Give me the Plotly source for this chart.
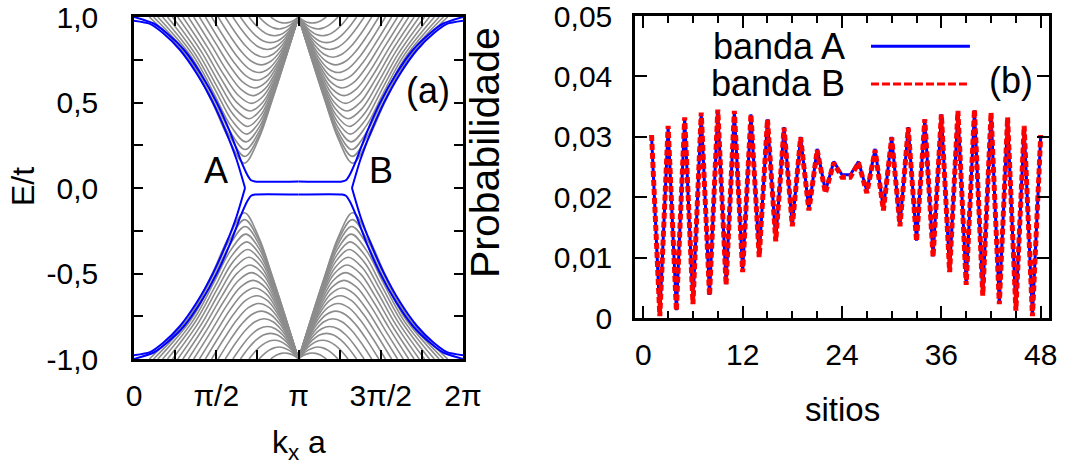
import plotly.graph_objects as go

# ---------------- panel (a): band structure, kx a in units of pi ----------------
# Upper-left quadrant (0 <= kx a <= pi, E > 0); the other quadrants follow from
# the symmetry of the spectrum about kx a = pi and E = 0.
edge_outer_k = [0.0, 0.097, 0.178, 0.28, 0.381, 0.482, 0.563, 0.624, 0.675]
edge_outer_E = [0.978, 0.96, 0.905, 0.807, 0.67, 0.495, 0.32, 0.165, 0.0]

edge_inner_k = [0.0, 0.12, 0.2, 0.305, 0.405, 0.506, 0.587, 0.648, 0.69, 0.712, 0.735, 1.0]
edge_inner_E = [1.0, 0.962, 0.905, 0.807, 0.67, 0.495, 0.32, 0.165, 0.075, 0.045, 0.038, 0.038]

# gray bulk sub-bands: each runs from the top of the frame down to its minimum
# and back up to E/t = 1 at kx a = pi
bulk_k = [
    [0.093, 0.334, 0.468, 0.576, 0.671, 0.758, 0.841, 0.921, 1.0],
    [0.119, 0.341, 0.472, 0.579, 0.673, 0.760, 0.842, 0.922, 1.0],
    [0.145, 0.350, 0.478, 0.583, 0.676, 0.762, 0.843, 0.922, 1.0],
    [0.174, 0.362, 0.486, 0.589, 0.680, 0.765, 0.845, 0.923, 1.0],
    [0.204, 0.376, 0.496, 0.596, 0.685, 0.768, 0.848, 0.924, 1.0],
    [0.234, 0.392, 0.507, 0.604, 0.691, 0.773, 0.850, 0.926, 1.0],
    [0.266, 0.410, 0.519, 0.613, 0.698, 0.777, 0.853, 0.927, 1.0],
    [0.297, 0.429, 0.533, 0.623, 0.705, 0.783, 0.857, 0.929, 1.0],
    [0.330, 0.450, 0.548, 0.635, 0.714, 0.789, 0.861, 0.931, 1.0],
    [0.363, 0.473, 0.565, 0.647, 0.723, 0.796, 0.865, 0.933, 1.0],
    [0.398, 0.498, 0.584, 0.662, 0.734, 0.803, 0.870, 0.935, 1.0],
    [0.434, 0.524, 0.604, 0.677, 0.746, 0.812, 0.876, 0.938, 1.0],
    [0.472, 0.553, 0.627, 0.695, 0.759, 0.822, 0.882, 0.941, 1.0],
    [0.512, 0.585, 0.652, 0.714, 0.774, 0.832, 0.889, 0.945, 1.0],
    [0.555, 0.619, 0.679, 0.736, 0.791, 0.845, 0.897, 0.949, 1.0],
    [0.601, 0.657, 0.710, 0.761, 0.811, 0.859, 0.906, 0.953, 1.0],
    [0.647, 0.695, 0.741, 0.786, 0.830, 0.873, 0.916, 0.958, 1.0],
    [0.699, 0.739, 0.778, 0.816, 0.854, 0.891, 0.927, 0.964, 1.0],
    [0.760, 0.792, 0.822, 0.852, 0.882, 0.912, 0.941, 0.971, 1.0],
    [0.831, 0.853, 0.874, 0.895, 0.916, 0.937, 0.958, 0.979, 1.0],
]
bulk_E = [
    [1.0, 0.756, 0.516, 0.287, 0.145, 0.287, 0.516, 0.756, 1.0],
    [1.0, 0.760, 0.525, 0.308, 0.185, 0.308, 0.525, 0.760, 1.0],
    [1.0, 0.765, 0.537, 0.332, 0.225, 0.332, 0.537, 0.765, 1.0],
    [1.0, 0.771, 0.552, 0.362, 0.270, 0.362, 0.552, 0.771, 1.0],
    [1.0, 0.778, 0.570, 0.394, 0.315, 0.394, 0.570, 0.778, 1.0],
    [1.0, 0.787, 0.589, 0.429, 0.360, 0.429, 0.589, 0.787, 1.0],
    [1.0, 0.796, 0.611, 0.465, 0.405, 0.465, 0.611, 0.796, 1.0],
    [1.0, 0.807, 0.634, 0.502, 0.450, 0.502, 0.634, 0.807, 1.0],
    [1.0, 0.818, 0.659, 0.541, 0.495, 0.541, 0.659, 0.818, 1.0],
    [1.0, 0.831, 0.685, 0.580, 0.540, 0.580, 0.685, 0.831, 1.0],
    [1.0, 0.844, 0.712, 0.619, 0.585, 0.619, 0.712, 0.844, 1.0],
    [1.0, 0.858, 0.740, 0.659, 0.630, 0.659, 0.740, 0.858, 1.0],
    [1.0, 0.873, 0.769, 0.700, 0.675, 0.700, 0.769, 0.873, 1.0],
    [1.0, 0.888, 0.799, 0.741, 0.720, 0.741, 0.799, 0.888, 1.0],
    [1.0, 0.905, 0.830, 0.782, 0.765, 0.782, 0.830, 0.905, 1.0],
    [1.0, 0.922, 0.861, 0.823, 0.810, 0.823, 0.861, 0.922, 1.0],
    [1.0, 0.937, 0.890, 0.860, 0.850, 0.860, 0.890, 0.937, 1.0],
    [1.0, 0.953, 0.919, 0.897, 0.890, 0.897, 0.919, 0.953, 1.0],
    [1.0, 0.970, 0.948, 0.935, 0.930, 0.935, 0.948, 0.970, 1.0],
    [1.0, 0.985, 0.974, 0.967, 0.965, 0.967, 0.974, 0.985, 1.0],
]

k_ticks = [0, 0.25, 0.5, 0.75, 1.0, 1.25, 1.5, 1.75, 2.0]
k_ticktext = ["0", "", "π/2", "", "π", "", "3π/2", "", "2π"]
E_ticks = [-1.0, -0.75, -0.5, -0.25, 0.0, 0.25, 0.5, 0.75, 1.0]
E_ticktext = ["-1,0", "", "-0,5", "", "0,0", "", "0,5", "", "1,0"]

# ---------------- panel (b): probability per site ----------------
sites = list(range(1, 49))
prob_A = [
    0.0302, 0.0004, 0.0316, 0.0013, 0.0331, 0.0024, 0.0339, 0.0038,
    0.0344, 0.0056, 0.0342, 0.0077, 0.0337, 0.0102, 0.0329, 0.0128,
    0.0316, 0.0153, 0.0300, 0.0180, 0.0280, 0.0210, 0.0259, 0.0237,
    0.0237, 0.0259, 0.0210, 0.0280, 0.0180, 0.0300, 0.0153, 0.0316,
    0.0128, 0.0329, 0.0102, 0.0337, 0.0077, 0.0342, 0.0056, 0.0344,
    0.0038, 0.0339, 0.0024, 0.0331, 0.0013, 0.0316, 0.0004, 0.0302,
]
prob_B = [
    0.0303, 0.0003, 0.0318, 0.0012, 0.0332, 0.0023, 0.0340, 0.0037,
    0.0345, 0.0055, 0.0343, 0.0076, 0.0337, 0.0101, 0.0329, 0.0127,
    0.0315, 0.0152, 0.0299, 0.0178, 0.0278, 0.0207, 0.0257, 0.0233,
    0.0233, 0.0257, 0.0207, 0.0278, 0.0178, 0.0299, 0.0152, 0.0315,
    0.0127, 0.0329, 0.0101, 0.0337, 0.0076, 0.0343, 0.0055, 0.0345,
    0.0037, 0.0340, 0.0023, 0.0332, 0.0012, 0.0318, 0.0003, 0.0303,
]
site_ticks = [0, 12, 24, 36, 48]
prob_ticks = [0, 0.01, 0.02, 0.03, 0.04, 0.05]
prob_ticktext = ["0", "0,01", "0,02", "0,03", "0,04", "0,05"]

FONT = "Liberation Sans, Arial, sans-serif"
BLUE = "#0000ff"
GRAY = "#8c8c8c"
RED = "#ff0000"


def four_quadrants(ks, es):
    """Return x, y lists (None separated) for a curve and its mirror images."""
    xs, ys = [], []
    for flip_k in (False, True):
        for flip_e in (False, True):
            xs += [(2.0 - k) if flip_k else k for k in ks] + [None]
            ys += [(-e) if flip_e else e for e in es] + [None]
    return xs, ys


gx, gy = [], []
for ks, es in zip(bulk_k, bulk_E):
    x, y = four_quadrants(ks, es)
    gx += x
    gy += y

bx, by = [], []
for ks, es in ((edge_outer_k, edge_outer_E), (edge_inner_k, edge_inner_E)):
    x, y = four_quadrants(ks, es)
    bx += x
    by += y

fig = go.Figure()
fig.add_trace(go.Scatter(x=gx, y=gy, mode="lines", xaxis="x", yaxis="y",
                         line=dict(color=GRAY, width=1.6, shape="spline", smoothing=1.0),
                         showlegend=False, hoverinfo="skip"))
fig.add_trace(go.Scatter(x=bx, y=by, mode="lines", xaxis="x", yaxis="y",
                         line=dict(color=BLUE, width=2, shape="spline", smoothing=0.6),
                         showlegend=False, hoverinfo="skip"))

fig.add_trace(go.Scatter(x=sites, y=prob_A, mode="lines", xaxis="x2", yaxis="y2",
                         line=dict(color=BLUE, width=3), name="banda A",
                         showlegend=False))
fig.add_trace(go.Scatter(x=sites, y=prob_B, mode="lines", xaxis="x2", yaxis="y2",
                         line=dict(color=RED, width=5, dash="6px,3px"), name="banda B",
                         showlegend=False))

axis_common = dict(showline=True, linecolor="black", linewidth=2.5, mirror="allticks",
                   ticks="inside", tickcolor="black", tickwidth=2, showgrid=False,
                   zeroline=False, automargin=False, ticklabeloverflow="allow",
                   tickfont=dict(family=FONT, size=30, color="black"))

fig.update_layout(
    width=1067, height=472,
    margin=dict(l=0, r=0, t=0, b=0, autoexpand=False),
    paper_bgcolor="white", plot_bgcolor="white",
    showlegend=False,
    xaxis=dict(domain=[134 / 1067, 463 / 1067], range=[0, 2], tickmode="array",
               tickvals=k_ticks, ticktext=k_ticktext, ticklen=9,
               ticklabelstandoff=8, anchor="y", **axis_common),
    yaxis=dict(domain=[113 / 472, 455 / 472], range=[-1, 1], tickmode="array",
               tickvals=E_ticks, ticktext=E_ticktext, ticklen=9,
               ticklabelstandoff=27, anchor="x", **axis_common),
    xaxis2=dict(domain=[635 / 1067, 1049 / 1067], range=[-1, 49], tickmode="array",
                tickvals=site_ticks, ticklen=12, ticklabelstandoff=8, anchor="y2",
                minor=dict(dtick=3, tick0=0, ticklen=7, tickcolor="black", tickwidth=2,
                           ticks="inside", showgrid=False),
                **axis_common),
    yaxis2=dict(domain=[154 / 472, 456 / 472], range=[0, 0.05], tickmode="array",
                tickvals=prob_ticks, ticktext=prob_ticktext, ticklen=12,
                ticklabelstandoff=14, anchor="x2", **axis_common),
)

title_font = dict(family=FONT, size=32, color="black")
label_font = dict(family=FONT, size=36, color="black")


def paper_text(text, px, py, angle=0, font=title_font):
    return dict(text=text, x=px / 1067, y=1 - py / 472, xref="paper", yref="paper",
                xanchor="center", yanchor="middle", textangle=angle,
                showarrow=False, font=font)


annotations = [
    paper_text("E/t", 23, 187, -90),
    paper_text("k<sub>x</sub> a", 299, 444),
    paper_text("Probabilidade", 485, 153, -90, dict(family=FONT, size=41, color="black")),
    paper_text("sitios", 842, 409, 0, dict(family=FONT, size=33, color="black")),
    dict(text="A", x=0.498, y=0.10, xref="x", yref="y", xanchor="center",
         yanchor="middle", showarrow=False, font=label_font),
    dict(text="B", x=1.50, y=0.10, xref="x", yref="y", xanchor="center",
         yanchor="middle", showarrow=False, font=label_font),
    dict(text="(a)", x=0.894, y=0.784, xref="x domain", yref="y domain",
         xanchor="center", yanchor="middle", showarrow=False, font=label_font),
    dict(text="(b)", x=0.908, y=0.785, xref="x2 domain", yref="y2 domain",
         xanchor="center", yanchor="middle", showarrow=False, font=label_font),
    dict(text="banda A", x=0.512, y=0.90, xref="x2 domain", yref="y2 domain",
         xanchor="right", yanchor="middle", showarrow=False, font=label_font),
    dict(text="banda B", x=0.512, y=0.775, xref="x2 domain", yref="y2 domain",
         xanchor="right", yanchor="middle", showarrow=False, font=label_font),
]
fig.update_layout(annotations=annotations)

fig.add_shape(type="line", xref="x2 domain", yref="y2 domain", x0=0.570, x1=0.809,
              y0=0.90, y1=0.90, line=dict(color=BLUE, width=3))
fig.add_shape(type="line", xref="x2 domain", yref="y2 domain", x0=0.570, x1=0.809,
              y0=0.775, y1=0.775, line=dict(color=RED, width=3, dash="8px,3px"))

fig.write_html("out.html")
